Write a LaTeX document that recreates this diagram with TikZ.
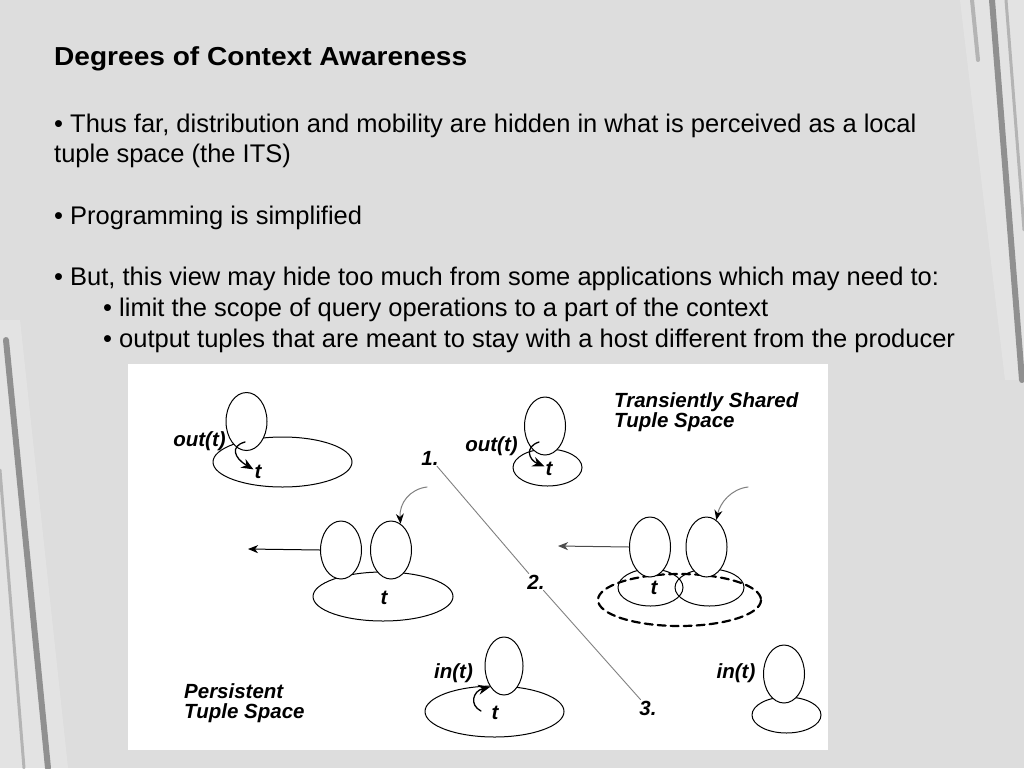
\documentclass[tikz,border=0pt]{standalone}
\usepackage{fontspec}
\setmainfont{Liberation Sans}
\newfontfamily\titlefont[FakeStretch=1.08]{Liberation Sans}
\usetikzlibrary{arrows.meta,shapes.geometric}
\definecolor{slidebg}{RGB}{221,221,221}
\definecolor{streak}{RGB}{110,110,110}
\tikzset{
  host/.style={ellipse, draw, fill=white, line width=1pt, minimum width=41pt, minimum height=58pt, inner sep=0pt},
  space/.style={ellipse, draw, line width=1pt, inner sep=0pt},
  lbl/.style={font=\fontsize{20.5}{20}\selectfont\bfseries\itshape, inner sep=1pt},
  body/.style={anchor=base west, inner sep=0pt, font=\fontsize{25.5}{28}\selectfont},
  give/.style={-{Stealth[length=12pt,width=10pt]}, line width=1.3pt},
  move/.style={-{Stealth[length=10pt,width=8pt,inset=3pt]}, line width=1pt},
  react/.style={draw=gray, line width=1pt, -{Stealth[length=10pt,width=8pt,color=black]}},
  every picture/.style={line cap=round, line join=round}
}
\begin{document}
\begin{tikzpicture}[x=1pt, y=-1pt]
  \useasboundingbox (0,0) rectangle (1024,768);
  \fill[slidebg] (0,0) rectangle (1024,768);
  % streaks at the slide edges
  \fill[white, opacity=0.2] (960,0) -- (1024,0) -- (1024,380) -- (1005,380) -- cycle;
  \draw[streak, line width=6pt, opacity=0.7] (992,0) -- (1022,380);
  \draw[streak, line width=3pt, opacity=0.4] (1006,0) -- (1024,230);
  \draw[streak, line width=4pt, opacity=0.4] (972,0) -- (978,60);
  \fill[white, opacity=0.2] (0,320) -- (20,320) -- (68,768) -- (0,768) -- cycle;
  \draw[streak, line width=6pt, opacity=0.7] (6,340) -- (48,768);
  \draw[streak, line width=3pt, opacity=0.4] (0,470) -- (24,768);

  % slide text
  \node[body, font=\fontsize{26}{28}\titlefont\bfseries] (title) at (54,66) {Degrees of Context Awareness};
  \node[body] (b1) at (54,132) {• Thus far, distribution and mobility are hidden in what is perceived as a local};
  \node[body] (b1x) at (54,162) {tuple space (the ITS)};
  \node[body] (b2) at (54,224) {• Programming is simplified};
  \node[body] (b3) at (54,285) {• But, this view may hide too much from some applications which may need to:};
  \node[body] (b3a) at (103,316) {• limit the scope of query operations to a part of the context};
  \node[body] (b3b) at (103,347) {• output tuples that are meant to stay with a host different from the producer};

  \fill[white] (128,364) rectangle (828,750);

  % out(t), persistent
  \node[space, minimum width=139pt, minimum height=50pt] (s1) at (282.5,462) {};
  \node[host] (h1) at (246.5,421.5) {};
  \node[lbl] (o1) at (199.5,441) {out(t)};
  \node[lbl] (t1) at (258,472) {t};

  % out(t), transiently shared
  \node[space, minimum width=69pt, minimum height=37pt] (s2) at (547.5,467.5) {};
  \node[host, minimum height=58pt] (h2) at (545,426) {};
  \node[lbl] (o2) at (491.5,446) {out(t)};
  \node[lbl] (t2) at (549,469) {t};

  \node[lbl, anchor=west, align=left] (ts) at (613,412.5) {Transiently Shared\\Tuple Space};
  \node[lbl, anchor=west, align=left] (ps) at (183,703) {Persistent\\Tuple Space};

  % steps
  \node[lbl] (n1) at (430,458) {1.};
  \node[lbl] (n2) at (536,582) {2.};
  \node[lbl] (n3) at (648,708) {3.};
  \draw[gray, line width=0.9pt] (n1) -- (n2);
  \draw[gray, line width=0.9pt] (n2) -- (n3);

  % engagement, persistent
  \node[space, minimum width=140pt, minimum height=49pt] (s3) at (383,596.5) {};
  \node[host] (h3a) at (341,550) {};
  \node[host] (h3b) at (391,550) {};
  \node[lbl] (t3) at (384,598) {t};
  \coordinate (a3) at (248,549);
  \coordinate (c3) at (427,487);
  \draw[move] (h3a.west) -- (a3);
  \draw[react] (c3) .. controls (410,489) and (399,503) .. (h3b.70);

  % engagement, transiently shared
  \node[space, minimum width=65pt, minimum height=37pt] (s4a) at (650.5,587.5) {};
  \node[space, minimum width=69pt, minimum height=37pt] (s4b) at (709.5,587.5) {};
  \draw[line width=2.2pt, dash pattern=on 8pt off 5pt] (679.5,600) ellipse [x radius=81.5, y radius=26];
  \node[host, minimum height=60pt] (h4a) at (650,547) {};
  \node[host, minimum height=60pt] (h4b) at (706.5,547) {};
  \node[lbl] (t4) at (654,588) {t};
  \coordinate (a4) at (558,546);
  \coordinate (c4) at (748,487);
  \draw[move, gray!60!black] (h4a.west) -- (a4);
  \draw[react] (c4) .. controls (731,489) and (720,503) .. (h4b.70);

  % in(t), persistent
  \node[space, minimum width=139pt, minimum height=51pt] (s5) at (494.5,711.5) {};
  \node[host, minimum width=38pt] (h5) at (504,666) {};
  \node[lbl] (i5) at (453.5,673) {in(t)};
  \node[lbl] (t5) at (495,713) {t};

  % in(t), transiently shared
  \node[space, minimum width=69pt, minimum height=36pt] (s6) at (786.5,715) {};
  \node[host] (h6) at (784,674) {};
  \node[lbl] (i6) at (736,673) {in(t)};

  \coordinate (g1) at (245,442);
  \coordinate (g2) at (539,442);
  \coordinate (g5) at (481,711);
  \draw[give] (g1) .. controls (230,446) and (234,458) .. (t1.150);
  \draw[give] (g2) .. controls (524,447) and (529,460) .. (t2.150);
  \draw[give] (g5) .. controls (469,705) and (473,691) .. (h5.south west);
\end{tikzpicture}
\end{document}
